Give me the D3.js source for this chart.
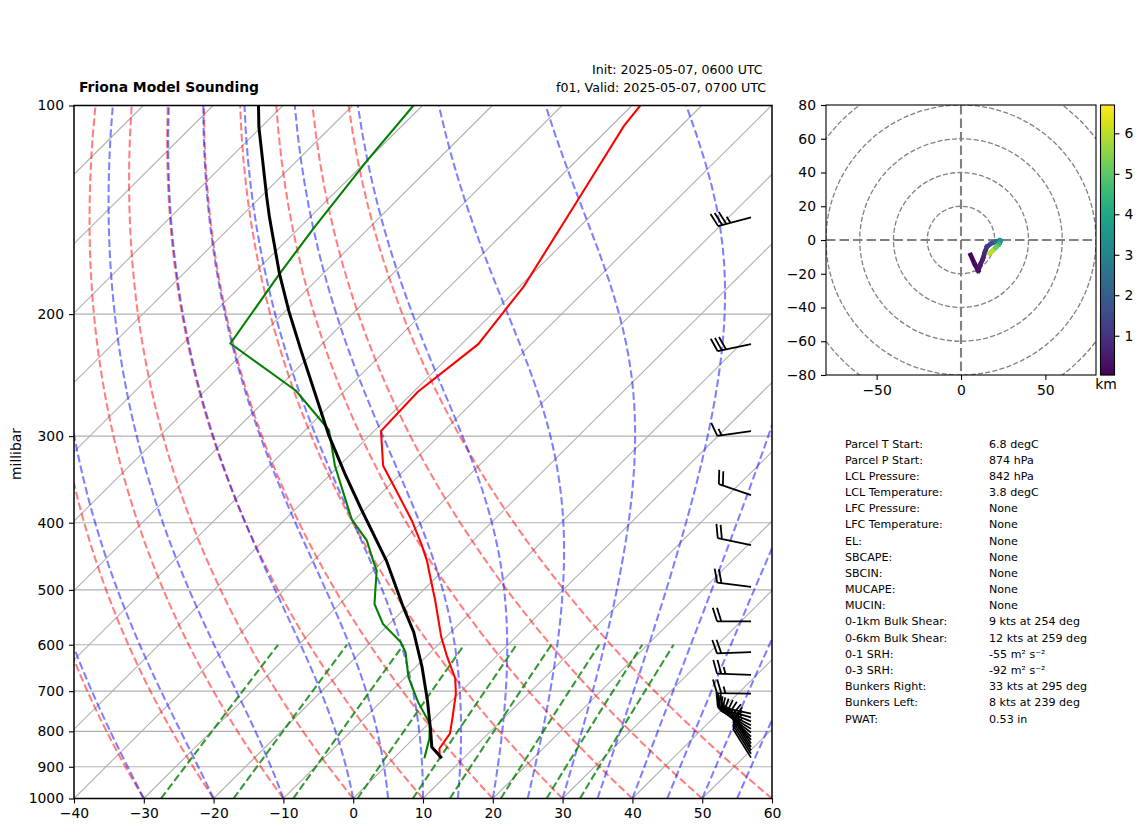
<!DOCTYPE html>
<html>
<head>
<meta charset="utf-8">
<script src="https://cdn.jsdelivr.net/npm/d3@7"></script>
<style>
  body { margin: 0; background: #fff; }
  svg { display: block; }
  text { font-family: "DejaVu Sans", sans-serif; fill: #000; }
  .tick text { font-size: 13.9px; font-family: "DejaVu Sans", sans-serif; }
  .tick line, .domain { stroke: #000; stroke-width: 1.1px; }
</style>
</head>
<body>
<svg id="chart" width="1142" height="832"></svg>
<script>

////////////////////////////////
// Sounding values
//

var tempPressure = [875, 847, 806, 763, 706, 671, 622, 585, 518, 479, 454, 431, 397, 350, 331, 295, 259, 221, 182.5, 137, 107, 100];
var tempValues = [6.6, 5.15, 4.5, 2.5, -0.4, -2.7, -7.2, -10.65, -16.8, -20.9, -23.7, -26.7, -31.7, -40, -43.7, -49, -49.4, -47.6, -49.4, -54.1, -58.2, -58.8];

var dewPressure = [875, 820, 780, 726, 668, 615, 595, 560, 524, 469, 454, 424, 396, 331, 294, 258, 220.5, 175, 150.5, 120, 100];
var dewValues = [4.4, 2.3, 0.2, -4.6, -9.6, -13.6, -15.7, -20.9, -25, -29.5, -31.4, -35.3, -40.4, -50.6, -56.6, -67, -83.2, -86.2, -87.9, -90, -91.3];

var parcelPressure = [875, 843, 798, 722, 646, 575, 527, 454, 384, 340, 299, 226, 198, 175, 145, 135.6, 107.5, 100];
var parcelValues = [6.9, 3.85, 1.3, -3.5, -9.1, -15.35, -20.7, -29.5, -40.3, -48, -55.9, -72, -79.5, -86.2, -95.8, -99.1, -110.3, -113.5];

// wind barbs, bottom to top
var barbPressure = [873, 862, 852, 843, 833, 823, 814, 803, 793, 784, 774, 764, 754, 706, 663, 615, 555, 495, 431, 365, 295, 221, 145];
var barbSpeed = [10, 10, 15, 15, 15, 15, 15, 15, 15, 15, 15, 15, 20, 25, 25, 20, 20, 20, 20, 20, 15, 30, 35];
var barbDirection = [328, 328, 328, 328, 326, 320, 314, 307, 301, 296, 291, 286, 282, 271, 272, 268, 270, 277, 282, 289, 262, 258, 255];

// hodograph trace
var hodoHeight = [0.03, 0.15, 0.3, 0.45, 0.6, 0.8, 1, 1.3, 1.8, 2.6, 3.3, 4, 4.8, 5.5, 6.5];
var hodoU = [5.7, 8, 10.2, 11.5, 13, 14.2, 15.4, 18, 20.5, 23, 23.5, 22.5, 21, 18.5, 17];
var hodoV = [-8.9, -14, -18.2, -14.5, -11, -7, -4, -2, -1, -0.3, -0.5, -2.5, -4, -6.5, -8];

// axis ticks
var pressureTicks = [1000, 900, 800, 700, 600, 500, 400, 300, 200, 100];
var tempTicks = [-40, -30, -20, -10, 0, 10, 20, 30, 40, 50, 60];
var hodoTicksX = [-50, 0, 50];
var hodoTicksY = [-80, -60, -40, -20, 0, 20, 40, 60, 80];
var hodoRings = [20, 40, 60, 80, 100];
var colorbarTicks = [1, 2, 3, 4, 5, 6];

// base temperatures of the guide line families
var isothermBases = d3.range(-140, 61, 10);
var dryBases = [-40, -30, -20, -10, 0, 10, 20, 30, 40, 50, 60];
var moistBases = [-40, -30, -20, -10, 0, 5, 10, 15, 20, 25, 30, 35, 40, 45, 50, 55, 60];
var mixingRatios = [0.0004, 0.001, 0.002, 0.004, 0.007, 0.01, 0.016, 0.024, 0.032];

// stats table
var statLabels = ["Parcel T Start:", "Parcel P Start:", "LCL Pressure:", "LCL Temperature:", "LFC Pressure:", "LFC Temperature:", "EL:", "SBCAPE:", "SBCIN:", "MUCAPE:", "MUCIN:", "0-1km Bulk Shear:", "0-6km Bulk Shear:", "0-1 SRH:", "0-3 SRH:", "Bunkers Right:", "Bunkers Left:", "PWAT:"];
var statValues = ["6.8 degC", "874 hPa", "842 hPa", "3.8 degC", "None", "None", "None", "None", "None", "None", "None", "9 kts at 254 deg", "12 kts at 259 deg", "-55 m² s⁻²", "-92 m² s⁻²", "33 kts at 295 deg", "8 kts at 239 deg", "0.53 in"];


////////////////////////////////
// Scales
//

var svg = d3.select("#chart");

var x = d3.scaleLinear().domain([-40, 60]).range([74, 772]);
var y = d3.scaleLog().domain([1000, 100]).range([798.5, 105.5]);

// isotherms lean a bit more than 45 degrees on this plot
var skew = 1.0065;
function skewX(t, p) {
  return x(t) + skew * (y(1000) - y(p));
}

var hx = d3.scaleLinear().domain([-80, 80]).range([826, 1096]);
var hy = d3.scaleLinear().domain([-80, 80]).range([375, 105]);
var km = d3.scaleLinear().domain([0.03, 6.7]).range([375, 105]);
var viridis = d3.scaleSequential(d3.interpolateViridis).domain([0.03, 6.7]);

var defs = svg.append("defs");
defs.append("clipPath").attr("id", "skewClip").append("rect")
    .attr("x", 74).attr("y", 105.5).attr("width", 698).attr("height", 693);
defs.append("clipPath").attr("id", "hodoClip").append("rect")
    .attr("x", 826).attr("y", 105).attr("width", 270).attr("height", 270);


////////////////////////////////
// Guide line families, from their physical definitions
//

var Rd = 287.05, Cp = 1005.7, Lv = 2.501e6, eps = 0.622;

function satMixing(tK, p) {
  var es = 6.112 * Math.exp(17.67 * (tK - 273.15) / (tK - 29.65));
  return eps * es / (p - es);
}

function moistSlope(tK, p) {
  var rs = satMixing(tK, p);
  return (Rd * tK + Lv * rs) / (Cp + Lv * Lv * rs * eps / (Rd * tK * tK)) / p;
}

var guideLevels = d3.range(1000, 99, -10);
var mixLevels = d3.range(1000, 599, -10);

var dryLines = dryBases.map(function (t0) {
  return guideLevels.map(function (p) {
    return { p: p, t: (t0 + 273.15) * Math.pow(p / 1000, 0.2857) - 273.15 };
  });
});

var moistLines = moistBases.map(function (t0) {
  var tK = t0 + 273.15;
  return guideLevels.map(function (p, i) {
    if (i > 0) {
      var dp = p - guideLevels[i - 1];
      var k1 = moistSlope(tK, p - dp);
      var k2 = moistSlope(tK + k1 * dp / 2, p - dp / 2);
      tK += k2 * dp;
    }
    return { p: p, t: tK - 273.15 };
  });
});

var mixLines = mixingRatios.map(function (w) {
  return mixLevels.map(function (p) {
    var ln = Math.log(p * w / (eps + w) / 6.112);
    return { p: p, t: 243.5 * ln / (17.67 - ln) };
  });
});

var skewLine = d3.line()
    .x(function (d) { return skewX(d.t, d.p); })
    .y(function (d) { return y(d.p); });

function profile(pressure, values) {
  return pressure.map(function (p, i) { return { p: p, t: values[i] }; });
}


////////////////////////////////
// Skew-T panel
//

var skewPlot = svg.append("g").attr("clip-path", "url(#skewClip)");

skewPlot.selectAll(".isotherm").data(isothermBases).enter().append("line")
    .attr("class", "isotherm")
    .attr("x1", function (t) { return skewX(t, 1000); })
    .attr("y1", y(1000))
    .attr("x2", function (t) { return skewX(t, 100); })
    .attr("y2", y(100))
    .attr("stroke", "#b0b0b0").attr("stroke-width", 1.1);

skewPlot.selectAll(".isobar").data(pressureTicks).enter().append("line")
    .attr("class", "isobar")
    .attr("x1", 74).attr("x2", 772)
    .attr("y1", function (p) { return y(p); })
    .attr("y2", function (p) { return y(p); })
    .attr("stroke", "#b0b0b0").attr("stroke-width", 1.1);

function guides(cls, lines, color, opacity) {
  skewPlot.selectAll("." + cls).data(lines).enter().append("path")
      .attr("class", cls)
      .attr("d", skewLine)
      .attr("fill", "none")
      .attr("stroke", color)
      .attr("stroke-opacity", opacity)
      .attr("stroke-width", 2.08)
      .attr("stroke-dasharray", "7.7,3.3");
}

guides("dry", dryLines, "#ff0000", 0.5);
guides("moist", moistLines, "#0000ff", 0.5);
guides("mixing", mixLines, "#008000", 0.8);

skewPlot.append("path")
    .attr("d", skewLine(profile(tempPressure, tempValues)))
    .attr("fill", "none").attr("stroke", "#ff0000").attr("stroke-width", 2.08);
skewPlot.append("path")
    .attr("d", skewLine(profile(dewPressure, dewValues)))
    .attr("fill", "none").attr("stroke", "#008000").attr("stroke-width", 2.08);
skewPlot.append("path")
    .attr("d", skewLine(profile(parcelPressure, parcelValues)))
    .attr("fill", "none").attr("stroke", "#000").attr("stroke-width", 3);

// wind barbs
var barbX = 751, barbLen = 34, barbHeight = 13.6, barbSlant = 4.25, barbGap = 4.25;

function barbPath(p, speed, dir) {
  var r = dir * Math.PI / 180;
  var ax = Math.sin(r), ay = -Math.cos(r);
  var nx = -ay, ny = ax;
  var y0 = y(p);
  function pt(along, side) {
    return (barbX + ax * along + nx * side).toFixed(2) + "," + (y0 + ay * along + ny * side).toFixed(2);
  }
  var d = "M" + pt(0, 0) + "L" + pt(barbLen, 0);
  var at = barbLen;
  var rounded = Math.round(speed / 5) * 5;
  for (var i = 0; i < Math.floor(rounded / 10); i++) {
    d += "M" + pt(at, 0) + "L" + pt(at + barbSlant, barbHeight);
    at -= barbGap;
  }
  if (rounded % 10 == 5) {
    if (rounded < 10) at -= 1.5 * barbGap;
    d += "M" + pt(at, 0) + "L" + pt(at + barbSlant / 2, barbHeight / 2);
  }
  return d;
}

svg.append("g").selectAll("path").data(barbPressure).enter().append("path")
    .attr("d", function (p, i) { return barbPath(p, barbSpeed[i], barbDirection[i]); })
    .attr("fill", "none").attr("stroke", "#000").attr("stroke-width", 1.8);

svg.append("rect")
    .attr("x", 74).attr("y", 105.5).attr("width", 698).attr("height", 693)
    .attr("fill", "none").attr("stroke", "#000").attr("stroke-width", 1.5);

svg.append("g").attr("transform", "translate(0,798.5)")
    .call(d3.axisBottom(x).tickValues(tempTicks).tickSize(5).tickPadding(5).tickFormat(d3.format("d")))
    .call(function (g) { g.select(".domain").remove(); });

svg.append("g").attr("transform", "translate(74,0)")
    .call(d3.axisLeft(y).tickValues(pressureTicks).tickSize(5).tickPadding(5).tickFormat(d3.format("d")))
    .call(function (g) { g.select(".domain").remove(); });

svg.append("text")
    .attr("transform", "translate(21,454) rotate(-90)")
    .attr("text-anchor", "middle")
    .style("font-size", "13.9px")
    .text("millibar");

svg.append("text")
    .attr("x", 79).attr("y", 92)
    .style("font-size", "13.9px").style("font-weight", "bold")
    .text("Friona Model Sounding");

svg.append("text")
    .attr("x", 592).attr("y", 74)
    .style("font-size", "12.6px")
    .text("Init: 2025-05-07, 0600 UTC");

svg.append("text")
    .attr("x", 556).attr("y", 92)
    .style("font-size", "12.65px")
    .text("f01, Valid: 2025-05-07, 0700 UTC");


////////////////////////////////
// Hodograph
//

var hodo = svg.append("g").attr("clip-path", "url(#hodoClip)");

hodo.selectAll("circle").data(hodoRings).enter().append("circle")
    .attr("cx", hx(0)).attr("cy", hy(0))
    .attr("r", function (r) { return hx(r) - hx(0); })
    .attr("fill", "none").attr("stroke", "#808080")
    .attr("stroke-width", 1.3).attr("stroke-dasharray", "5.1,2.2");

hodo.append("line")
    .attr("x1", 826).attr("x2", 1096).attr("y1", hy(0)).attr("y2", hy(0))
    .attr("stroke", "#808080").attr("stroke-width", 2.1).attr("stroke-dasharray", "9.5,4");
hodo.append("line")
    .attr("x1", hx(0)).attr("x2", hx(0)).attr("y1", 105).attr("y2", 375)
    .attr("stroke", "#808080").attr("stroke-width", 2.1).attr("stroke-dasharray", "9.5,4");

hodo.selectAll(".seg").data(hodoHeight.slice(1)).enter().append("line")
    .attr("class", "seg")
    .attr("x1", function (h, i) { return hx(hodoU[i]); })
    .attr("y1", function (h, i) { return hy(hodoV[i]); })
    .attr("x2", function (h, i) { return hx(hodoU[i + 1]); })
    .attr("y2", function (h, i) { return hy(hodoV[i + 1]); })
    .attr("stroke", function (h, i) { return viridis((h + hodoHeight[i]) / 2); })
    .attr("stroke-width", 4.6)
    .attr("stroke-linecap", "square");

svg.append("rect")
    .attr("x", 826).attr("y", 105).attr("width", 270).attr("height", 270)
    .attr("fill", "none").attr("stroke", "#000").attr("stroke-width", 1.1);

svg.append("g").attr("transform", "translate(0,375)")
    .call(d3.axisBottom(hx).tickValues(hodoTicksX).tickSize(5).tickPadding(5).tickFormat(d3.format("d")))
    .call(function (g) { g.select(".domain").remove(); });

svg.append("g").attr("transform", "translate(826,0)")
    .call(d3.axisLeft(hy).tickValues(hodoTicksY).tickSize(5).tickPadding(5).tickFormat(d3.format("d")))
    .call(function (g) { g.select(".domain").remove(); });

// colorbar
svg.append("g").selectAll("rect").data(d3.range(0, 270)).enter().append("rect")
    .attr("x", 1100.5).attr("width", 14)
    .attr("y", function (i) { return 105 + i; })
    .attr("height", 1.2)
    .attr("fill", function (i) { return viridis(km.invert(105 + i + 0.5)); });

svg.append("rect")
    .attr("x", 1100.5).attr("y", 105).attr("width", 14).attr("height", 270)
    .attr("fill", "none").attr("stroke", "#000").attr("stroke-width", 1.1);

svg.append("g").attr("transform", "translate(1114.5,0)")
    .call(d3.axisRight(km).tickValues(colorbarTicks).tickSize(5).tickPadding(5).tickFormat(d3.format("d")))
    .call(function (g) { g.select(".domain").remove(); });

svg.append("text")
    .attr("x", 1106).attr("y", 389)
    .attr("text-anchor", "middle")
    .style("font-size", "13.9px")
    .text("km");


////////////////////////////////
// Stats table
//

var row = d3.scalePoint().domain(d3.range(statLabels.length)).range([447.5, 722.5]);

svg.append("g").selectAll("text").data(statLabels).enter().append("text")
    .attr("x", 845)
    .attr("y", function (d, i) { return row(i); })
    .style("font-size", "11.1px")
    .text(function (d) { return d; });

svg.append("g").selectAll("text").data(statValues).enter().append("text")
    .attr("x", 989)
    .attr("y", function (d, i) { return row(i); })
    .style("font-size", "11.1px")
    .text(function (d) { return d; });

</script>
</body>
</html>
